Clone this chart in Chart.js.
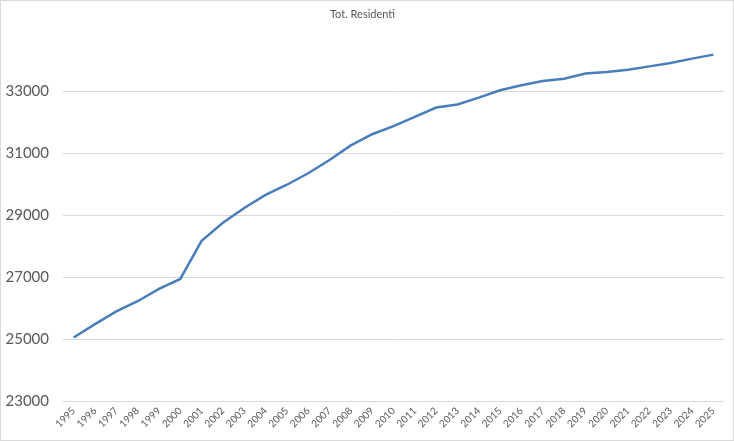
<!DOCTYPE html>
<html lang="it">
<head>
<meta charset="UTF-8">
<title>Tot. Residenti</title>
<script src="https://cdn.jsdelivr.net/npm/chart.js"></script>
<style>
  html, body { margin: 0; padding: 0; background: #fff; }
  #box { width: 734px; height: 441px; box-sizing: border-box; border: 1px solid #d9d9d9; }
</style>
</head>
<body>
<div id="box"><canvas id="grafico" width="732" height="439"></canvas></div>
<script>
// anni e residenti
const anni = ['1995','1996','1997','1998','1999','2000','2001','2002','2003','2004',
              '2005','2006','2007','2008','2009','2010','2011','2012','2013','2014',
              '2015','2016','2017','2018','2019','2020','2021','2022','2023','2024','2025'];
const residenti = [25050, 25480, 25890, 26220, 26620, 26940, 28170, 28750, 29230, 29650,
                   29980, 30350, 30780, 31250, 31610, 31870, 32170, 32470, 32570, 32790,
                   33030, 33190, 33330, 33400, 33570, 33620, 33690, 33800, 33910, 34050, 34180];
const yMin = 23000, yMax = 35000, yPasso = 2000;

const grigio = '#595959';

new Chart(document.getElementById('grafico'), {
  type: 'line',
  data: {
    labels: anni,
    datasets: [{
      label: 'Tot. Residenti',
      data: residenti,
      borderColor: '#4A7EBB',
      borderWidth: 2.5,
      pointRadius: 0,
      tension: 0,
      fill: false
    }]
  },
  options: {
    responsive: false,
    animation: false,
    layout: { padding: { left: 0, right: 9, top: 0, bottom: 0 } },
    plugins: {
      legend: { display: false },
      tooltip: { enabled: false },
      title: {
        display: true,
        text: 'Tot. Residenti',
        color: grigio,
        font: { family: 'Lato', size: 11, weight: 'normal' },
        padding: { top: 7, bottom: 8 }
      }
    },
    scales: {
      x: {
        offset: true,
        grid: { display: false, drawTicks: false },
        border: { display: false },
        ticks: {
          color: grigio,
          font: { family: 'Lato', size: 10 },
          minRotation: 45,
          maxRotation: 45,
          autoSkip: false,
          padding: 4
        },
        afterFit: s => { s.height = 39; }
      },
      y: {
        min: yMin,
        max: yMax,
        ticks: {
          stepSize: yPasso,
          color: grigio,
          font: { family: 'Lato', size: 15 },
          padding: 14,
          callback: v => v === yMax ? '' : v
        },
        grid: {
          drawTicks: false,
          color: ctx => ctx.tick && ctx.tick.value === yMax ? 'rgba(0,0,0,0)' : '#d9d9d9',
          lineWidth: 1
        },
        border: { display: false },
        afterFit: s => { s.width = 62; }
      }
    }
  }
});
</script>
</body>
</html>
